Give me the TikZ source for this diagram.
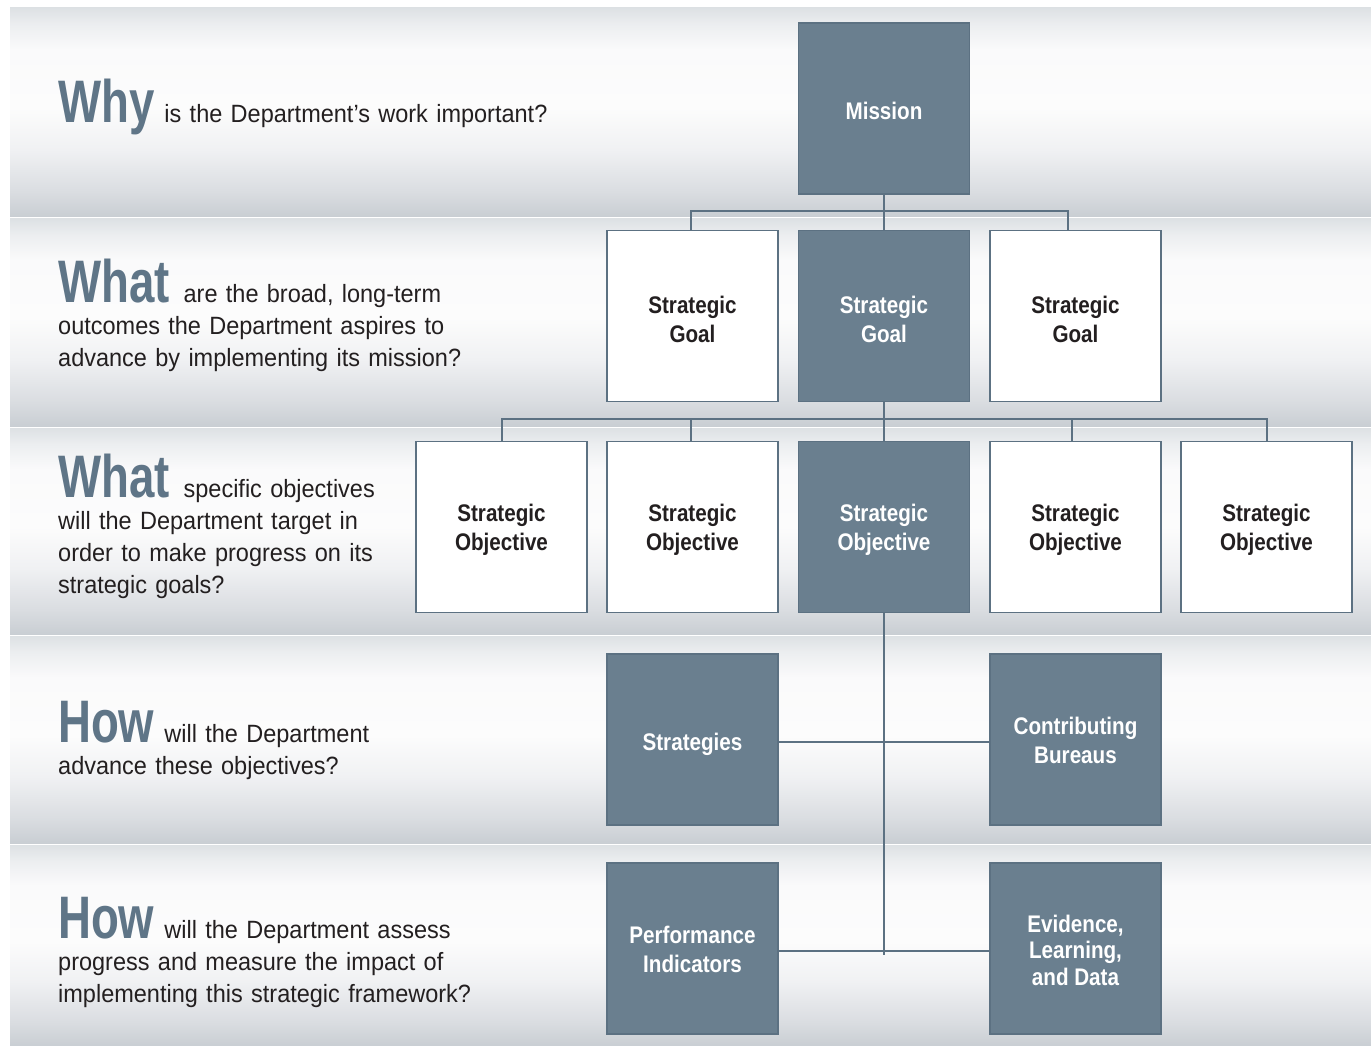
\documentclass[tikz,border=0pt]{standalone}
\usepackage{fontspec}
\setmainfont{Liberation Sans}
\newfontfamily\qfont{Liberation Sans}[FakeStretch=0.94]
\newfontfamily\bigfont{Liberation Sans Bold}[FakeStretch=0.76]
\newfontfamily\boxfont{Liberation Sans Bold}[FakeStretch=0.86]
\definecolor{slate}{HTML}{6A7F8F}
\definecolor{slateline}{HTML}{5C7182}
\definecolor{bigword}{HTML}{5F7587}
\definecolor{ink}{HTML}{231F20}
\definecolor{bandA}{HTML}{C9CED3}
\definecolor{bandB}{HTML}{DADDE1}
\definecolor{bandC}{HTML}{F0F1F3}
\definecolor{bandD}{HTML}{FCFCFC}
\definecolor{bandE}{HTML}{FAFAFB}
\definecolor{bandF}{HTML}{ECEEF0}
\definecolor{bandG}{HTML}{DDE1E4}
% the path is mapped onto 25bp..75bp of the shading
\pgfdeclareverticalshading{band}{100bp}{color(0bp)=(bandA); color(25bp)=(bandA); color(31bp)=(bandB); color(41bp)=(bandC); color(51bp)=(bandD); color(65bp)=(bandE); color(71bp)=(bandF); color(75bp)=(bandG); color(100bp)=(bandG)}
\newcommand{\bt}[2][12pt]{\vbox{\kern#1\hbox{\begin{tabular}{@{}c@{}}#2\end{tabular}}}}
\tikzset{
  darkbox/.style={draw=slateline, line width=1.5pt, fill=slate, minimum width=171pt, minimum height=171pt, inner sep=0pt, text=white, font=\boxfont\fontsize{24}{29}\selectfont},
  lightbox/.style={darkbox, fill=white, text=ink},
  conn/.style={draw=slateline, line width=2pt},
  question/.style={anchor=base west, inner sep=0pt, text width=520pt, align=left, text=ink, font=\qfont\fontsize{25}{32}\selectfont},
}
\newcommand{\bw}[1]{{\bigfont\fontsize{60}{60}\selectfont\color{bigword}#1}\hspace{10pt}}
\begin{document}
\begin{tikzpicture}[x=1pt,y=-1pt]
\useasboundingbox (0,0) rectangle (1371,1046);
\fill[white] (0,0) rectangle (1371,1046);
% bands
\shade[shading=band] (10,8) rectangle (1371,216.5);
\shade[shading=band] (10,218.5) rectangle (1371,426);
\shade[shading=band] (10,428) rectangle (1371,634);
\shade[shading=band] (10,636) rectangle (1371,843);
\shade[shading=band] (10,845) rectangle (1371,1046);
% questions
\node[question] (q1) at (58,123) {\bw{Why}is the Department’s work important?};
\node[question] (q2) at (58,302) {\bw{What}\hspace{4pt}are the broad, long-term\\outcomes the Department aspires to\\advance by implementing its mission?};
\node[question] (q3) at (58,497) {\bw{What}\hspace{4pt}specific objectives\\will the Department target in\\order to make progress on its\\strategic goals?};
\node[question] (q4) at (58,742) {\bw{How}will the Department\\advance these objectives?};
\node[question] (q5) at (58,938) {\bw{How}will the Department assess\\progress and measure the impact of\\implementing this strategic framework?};
% boxes
\node[darkbox] (mission) at (884,108.5) {\bt[10pt]{Mission}};
\node[lightbox] (g1) at (692.5,316) {\bt{Strategic\\Goal}};
\node[darkbox] (g2) at (884,316) {\bt{Strategic\\Goal}};
\node[lightbox] (g3) at (1075.5,316) {\bt{Strategic\\Goal}};
\node[lightbox] (o1) at (501.5,527) {\bt[6pt]{Strategic\\Objective}};
\node[lightbox] (o2) at (692.5,527) {\bt[6pt]{Strategic\\Objective}};
\node[darkbox] (o3) at (884,527) {\bt[6pt]{Strategic\\Objective}};
\node[lightbox] (o4) at (1075.5,527) {\bt[6pt]{Strategic\\Objective}};
\node[lightbox] (o5) at (1266.5,527) {\bt[6pt]{Strategic\\Objective}};
\node[darkbox] (strat) at (692.5,739.5) {\bt[10pt]{Strategies}};
\node[darkbox] (bur) at (1075.5,739.5) {\bt[8pt]{Contributing\\Bureaus}};
\node[darkbox] (perf) at (692.5,948.5) {\bt[8pt]{Performance\\Indicators}};
\node[darkbox, font=\boxfont\fontsize{24}{26.5}\selectfont] (evid) at (1075.5,948.5) {\bt[10pt]{Evidence,\\Learning,\\and Data}};
% connectors
\coordinate (mj) at (884,211);
\coordinate (gj) at (884,419);
\coordinate (vend) at (884,955);
\draw[conn] (mission.south) -- (mj);
\draw[conn] (mj) -| ([xshift=-1.5pt]g1.north);
\draw[conn] (mj) -| ([xshift=-7.5pt]g3.north);
\draw[conn] (mj) -- (g2.north);
\draw[conn] (g2.south) -- (gj);
\draw[conn] (gj) -| (o1.north);
\draw[conn] (gj) -| ([xshift=-1.5pt]o2.north);
\draw[conn] (gj) -- (o3.north);
\draw[conn] (gj) -| ([xshift=-3.5pt]o4.north);
\draw[conn] (gj) -| (o5.north);
\draw[conn] (o3.south) -- (vend);
\draw[conn] ([yshift=-2pt]strat.east) -- ([yshift=-2pt]bur.west);
\draw[conn] ([yshift=-2pt]perf.east) -- ([yshift=-2pt]evid.west);
\end{tikzpicture}
\end{document}
